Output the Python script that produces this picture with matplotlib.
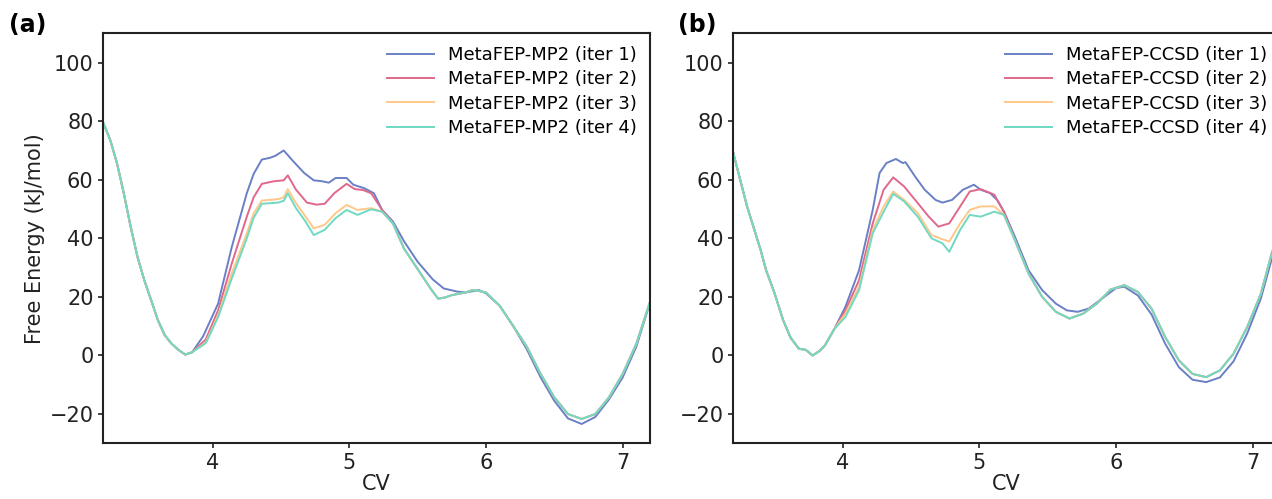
import numpy as np
import matplotlib
matplotlib.use("Agg")
import matplotlib.pyplot as plt

# colours of the four iterations
colors = ['#6a80c6', '#e0688a', '#ffc88a', '#6fd9c2']

# ---------------- panel (a) : MetaFEP-MP2 ----------------
a_labels = ['MetaFEP-MP2 (iter 1)', 'MetaFEP-MP2 (iter 2)',
            'MetaFEP-MP2 (iter 3)', 'MetaFEP-MP2 (iter 4)']

a_left_x = [3.20, 3.25, 3.30, 3.35, 3.40, 3.45, 3.50, 3.55, 3.60, 3.65, 3.70, 3.75, 3.80, 3.85]
a_left_y = [79.4, 73.7, 65.7, 55.4, 44.0, 33.7, 25.7, 18.9, 12.0, 6.9, 4.0, 1.9, 0.3, 1.1]

a1_mid_x = [3.93, 4.04, 4.14, 4.25, 4.30, 4.36, 4.42, 4.46, 4.52, 4.59, 4.67, 4.74, 4.80,
            4.85, 4.90, 4.98, 5.03, 5.11, 5.18, 5.24, 5.32, 5.40, 5.50, 5.61, 5.69, 5.79]
a1_mid_y = [6.5, 17.7, 37.0, 55.4, 62.0, 66.9, 67.5, 68.2, 70.0, 66.3, 62.3, 59.8, 59.5,
            59.0, 60.6, 60.6, 58.3, 57.1, 55.4, 49.7, 45.7, 39.0, 32.0, 26.0, 22.9, 21.8]
a2_mid_x = [3.95, 4.04, 4.14, 4.25, 4.30, 4.36, 4.45, 4.52, 4.55, 4.61, 4.69, 4.76, 4.82,
            4.89, 4.98, 5.04, 5.10, 5.16, 5.24, 5.32]
a2_mid_y = [5.5, 15.4, 31.4, 47.4, 54.0, 58.6, 59.5, 59.8, 61.5, 56.6, 52.2, 51.5, 51.8,
            55.4, 58.6, 56.8, 56.5, 55.4, 49.7, 45.0]
a3_mid_x = [3.95, 4.04, 4.14, 4.25, 4.30, 4.36, 4.48, 4.52, 4.55, 4.61, 4.68, 4.74, 4.82,
            4.90, 4.98, 5.06, 5.16, 5.24, 5.32]
a3_mid_y = [4.5, 13.7, 28.0, 41.7, 48.5, 52.9, 53.4, 54.0, 56.8, 52.0, 47.4, 43.4, 44.6,
            48.6, 51.4, 49.7, 50.3, 49.1, 45.0]
a4_mid_x = a3_mid_x
a4_mid_y = [4.2, 13.1, 26.3, 40.0, 47.0, 51.8, 52.2, 52.8, 55.4, 50.3, 45.7, 41.1, 42.9,
            46.9, 49.7, 48.0, 49.9, 49.1, 45.0]

a_right_x = [5.40, 5.50, 5.60, 5.65, 5.70, 5.75, 5.85, 5.90, 5.95, 6.00, 6.10, 6.20, 6.30,
             6.40, 6.50, 6.60, 6.70, 6.80, 6.90, 7.00, 7.10, 7.20]
a_right_y = [36.5, 29.5, 22.5, 19.4, 19.8, 20.6, 21.5, 22.3, 22.0, 21.5, 17.0, 10.0, 2.9,
             -6.3, -14.3, -20.0, -21.7, -20.0, -14.3, -6.3, 4.0, 18.3]
a1_right_x = [5.85, 5.95, 6.00, 6.10, 6.20, 6.30, 6.40, 6.50, 6.60, 6.70, 6.80, 6.90,
              7.00, 7.10, 7.20]
a1_right_y = [21.5, 22.3, 21.2, 17.0, 10.0, 2.0, -7.5, -15.5, -21.5, -23.4, -21.0, -15.0,
              -7.5, 3.0, 18.0]

# ---------------- panel (b) : MetaFEP-CCSD ----------------
b_labels = ['MetaFEP-CCSD (iter 1)', 'MetaFEP-CCSD (iter 2)',
            'MetaFEP-CCSD (iter 3)', 'MetaFEP-CCSD (iter 4)']

b_left_x = [3.20, 3.30, 3.40, 3.44, 3.50, 3.565, 3.62, 3.68, 3.73, 3.78, 3.83, 3.87, 3.94]
b_left_y = [69.1, 51.0, 36.0, 29.1, 21.5, 12.0, 6.0, 2.3, 1.9, 0.0, 1.5, 3.4, 9.1]

b1_mid_x = [4.02, 4.12, 4.22, 4.27, 4.32, 4.39, 4.44, 4.46, 4.53, 4.60, 4.68, 4.73, 4.80,
            4.88, 4.96, 5.01, 5.08, 5.13, 5.18, 5.26, 5.36, 5.46, 5.56, 5.64, 5.72]
b1_mid_y = [16.6, 29.1, 49.7, 62.3, 65.7, 67.1, 65.7, 66.0, 61.1, 56.6, 53.1, 52.2, 53.1,
            56.6, 58.3, 56.6, 55.4, 53.1, 49.1, 40.6, 29.1, 22.3, 17.7, 15.4, 14.9]
b2_mid_x = [4.02, 4.12, 4.22, 4.30, 4.37, 4.45, 4.55, 4.63, 4.70, 4.78, 4.86, 4.93, 5.01,
            5.11, 5.18, 5.26]
b2_mid_y = [15.4, 25.7, 45.1, 56.6, 60.8, 57.7, 52.0, 47.4, 44.0, 45.1, 50.9, 56.0, 56.8,
            54.9, 49.1, 39.4]
b3_mid_x = [4.02, 4.12, 4.22, 4.30, 4.37, 4.45, 4.55, 4.65, 4.73, 4.78, 4.86, 4.93, 5.01,
            5.11, 5.18, 5.26]
b3_mid_y = [14.3, 23.4, 42.9, 50.9, 56.0, 53.1, 48.6, 41.1, 39.7, 38.9, 45.1, 49.7, 50.9,
            50.9, 48.0, 39.4]
b4_mid_x = b3_mid_x
b4_mid_y = [13.1, 22.3, 41.7, 49.1, 55.2, 52.6, 47.4, 40.0, 38.3, 35.4, 42.9, 48.0, 47.4,
            49.1, 48.0, 39.4]

b_right_x = [5.36, 5.46, 5.56, 5.66, 5.76, 5.86, 5.96, 6.06, 6.16, 6.26, 6.36, 6.46, 6.56,
             6.66, 6.76, 6.86, 6.96, 7.06, 7.14, 7.20]
b_right_y = [28.0, 20.0, 14.9, 12.6, 14.3, 17.7, 22.5, 24.0, 21.7, 16.0, 6.3, -1.7, -6.3,
             -7.4, -5.1, 0.6, 9.7, 21.1, 35.0, 43.0]
b1_right_x = [5.80, 5.90, 6.00, 6.06, 6.16, 6.26, 6.36, 6.46, 6.56, 6.66, 6.76, 6.86, 6.96,
              7.06, 7.14, 7.20]
b1_right_y = [16.0, 19.5, 23.0, 23.5, 20.5, 14.0, 4.0, -4.0, -8.3, -9.1, -7.5, -2.0, 7.5,
              19.5, 33.0, 42.0]

a_curves = [(a_left_x + a1_mid_x + a1_right_x, a_left_y + a1_mid_y + a1_right_y),
            (a_left_x + a2_mid_x + a_right_x, a_left_y + a2_mid_y + a_right_y),
            (a_left_x + a3_mid_x + a_right_x, a_left_y + a3_mid_y + a_right_y),
            (a_left_x + a4_mid_x + a_right_x, a_left_y + a4_mid_y + a_right_y)]
b_curves = [(b_left_x + b1_mid_x + b1_right_x, b_left_y + b1_mid_y + b1_right_y),
            (b_left_x + b2_mid_x + b_right_x, b_left_y + b2_mid_y + b_right_y),
            (b_left_x + b3_mid_x + b_right_x, b_left_y + b3_mid_y + b_right_y),
            (b_left_x + b4_mid_x + b_right_x, b_left_y + b4_mid_y + b_right_y)]

fig = plt.figure(figsize=(12.72, 4.99), dpi=100)
ax1 = fig.add_axes([0.0812, 0.1116, 0.4298, 0.8216])
ax2 = fig.add_axes([0.5765, 0.1116, 0.4298, 0.8216])

for ax, curves, labels in [(ax1, a_curves, a_labels), (ax2, b_curves, b_labels)]:
    for (x, y), c, lab in zip(curves, colors, labels):
        ax.plot(x, y, color=c, lw=1.4, label=lab)
    ax.set_xlim(3.2, 7.2)
    ax.set_ylim(-30, 110)
    ax.set_xticks([4, 5, 6, 7])
    ax.set_yticks([-20, 0, 20, 40, 60, 80, 100])
    ax.tick_params(labelsize=15, colors='#222222', width=1.2)
    ax.set_xlabel('CV', fontsize=15, color='#222222', labelpad=1)
    for s in ax.spines.values():
        s.set_linewidth(1.5)
        s.set_color('#222222')
    ax.legend(loc='upper right', frameon=False, fontsize=13, handlelength=2.6,
              labelspacing=0.35, borderaxespad=0.3)

ax1.set_ylabel('Free Energy (kJ/mol)', fontsize=15, color='#222222', labelpad=3)
fig.text(0.007, 0.935, '(a)', fontsize=17, fontweight='bold')
fig.text(0.533, 0.935, '(b)', fontsize=17, fontweight='bold')

fig.savefig('out.png', dpi=100)
